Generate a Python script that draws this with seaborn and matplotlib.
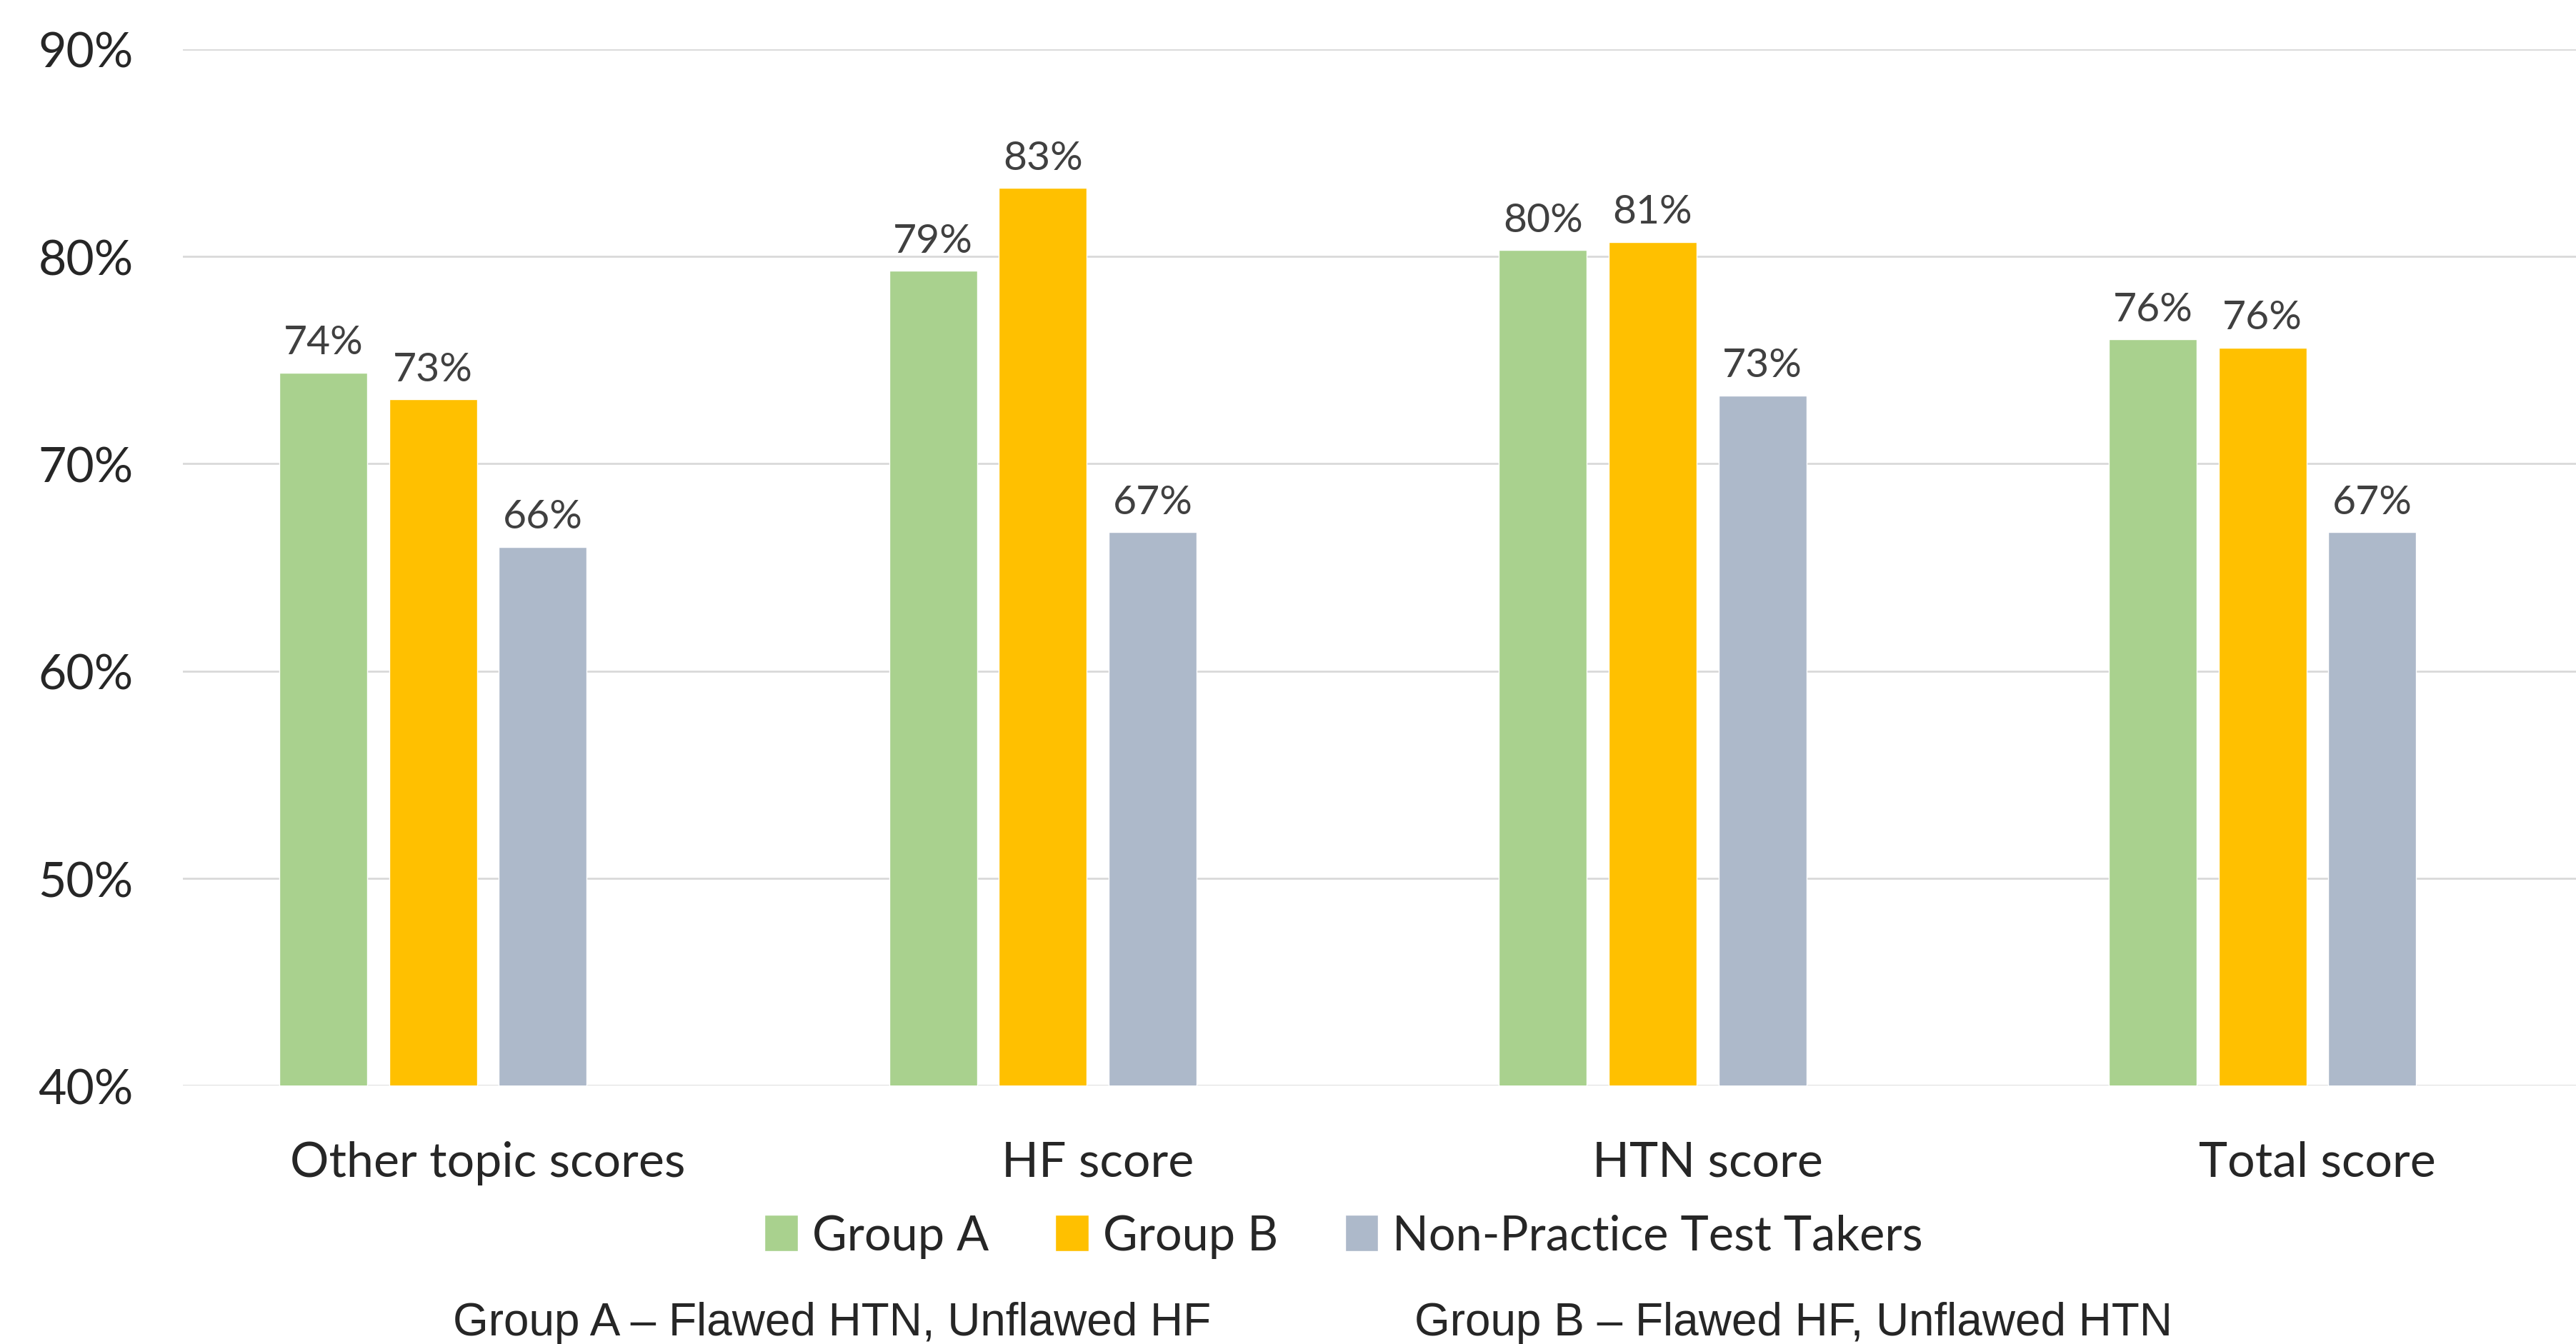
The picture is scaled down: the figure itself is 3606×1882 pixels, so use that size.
import pandas as pd
import matplotlib
matplotlib.use('Agg')
from matplotlib import pyplot as plt
import seaborn as sns

categories = ['Other topic scores', 'HF score', 'HTN score', 'Total score']
groups = ['Group A', 'Group B', 'Non-Practice Test Takers']
group_a = [74.4, 79.3, 80.3, 76.0]
group_b = [73.1, 83.3, 80.7, 75.6]
non_practice = [66.0, 66.7, 73.3, 66.7]
colors = ['#A9D18E', '#FFC000', '#ADB9CA', '#FFFFFF']
yticks = [40, 50, 60, 70, 80, 90]

rows = []
for g, vals in zip(groups, [group_a, group_b, non_practice]):
    for c, v in zip(categories, vals):
        rows.append({'category': c, 'group': g, 'score': v})
df = pd.DataFrame(rows)

sns.set_style('white')
plt.rcParams['font.family'] = ['Lato', 'DejaVu Sans']

fig = plt.figure(figsize=(36.06, 18.83), dpi=100)
ax = fig.add_axes([0.071, 0.192, 0.947, 0.771])

# the original chart keeps an empty 4th series slot, which shifts the bars left
sns.barplot(data=df, x='category', y='score', hue='group',
            hue_order=groups + [' '], palette=colors,
            width=0.72, gap=0.2, ax=ax, legend=True, saturation=1)

for cont in ax.containers:
    if len(cont.datavalues) == 0:
        continue
    ax.bar_label(cont, labels=[f'{v:.0f}%' for v in cont.datavalues],
                 padding=12, fontsize=41, color='#404040')

ax.set_ylim(40, 90)
ax.set_yticks(yticks)
ax.set_yticklabels([f'{t}%' for t in yticks], fontsize=49)
ax.tick_params(axis='y', pad=50, length=0)
ax.tick_params(axis='x', labelsize=49, pad=55, length=0)
ax.set_xlim(-0.5, 3.5)
ax.yaxis.grid(True, color='#D9D9D9', linewidth=2)
ax.set_axisbelow(True)
for s in ax.spines.values():
    s.set_visible(False)
ax.set_xlabel('')
ax.set_ylabel('')

handles, labels = ax.get_legend_handles_labels()
ax.legend(handles[:3], labels[:3], loc='center',
          bbox_to_anchor=(1881 / 3606, 1 - 1732 / 1883),
          bbox_transform=fig.transFigure, ncol=3, frameon=False, fontsize=48,
          handlelength=0.7, handleheight=0.8, handletextpad=0.3, columnspacing=1.4)

fig.text(1165 / 3606, 1 - 1853 / 1883, 'Group A \u2013 Flawed HTN, Unflawed HF',
         ha='center', va='center', fontsize=46, family='Liberation Sans')
fig.text(2510 / 3606, 1 - 1853 / 1883, 'Group B \u2013 Flawed HF, Unflawed HTN',
         ha='center', va='center', fontsize=46, family='Liberation Sans')

fig.savefig('out.png', dpi=100)
